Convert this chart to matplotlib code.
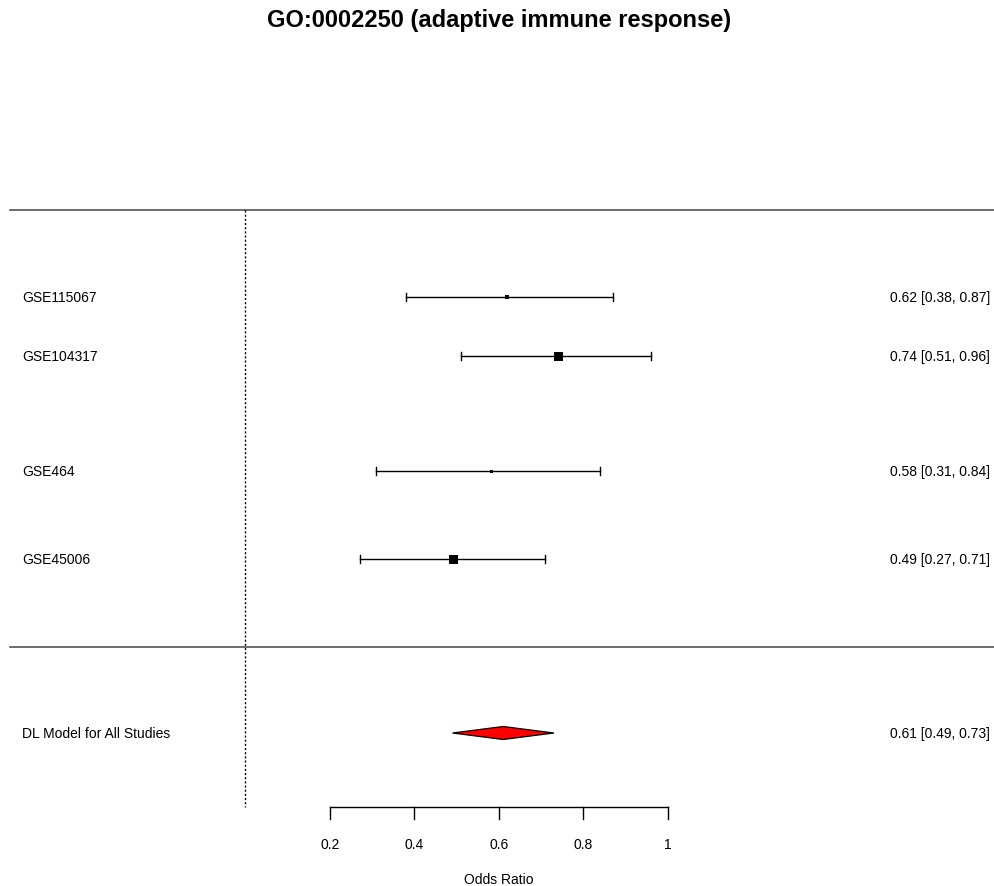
import numpy as np
import matplotlib.pyplot as plt
from matplotlib.patches import Polygon

plt.rcParams['font.family'] = ['Liberation Sans', 'DejaVu Sans']

studies = ['GSE115067', 'GSE104317', 'GSE464', 'GSE45006']
est = [0.62, 0.74, 0.58, 0.49]
lo = [0.38, 0.51, 0.31, 0.27]
hi = [0.87, 0.96, 0.84, 0.71]
box = [5, 9, 3, 9]          # square size in px (study weight)
pooled_label = 'DL Model for All Studies'
pooled = (0.61, 0.49, 0.73)
ticks = [0.2, 0.4, 0.6, 0.8, 1.0]
tick_labels = ['0.2', '0.4', '0.6', '0.8', '1']

# row positions (vertical layout, pixel-like units from the top)
rows = [298, 357, 472, 560]
row_pooled = 734

W, H = 995, 887
fig = plt.figure(figsize=(W / 100, H / 100), dpi=100)
ax = fig.add_axes([0, 0, 1, 1])
xmin, xmax = -0.581, 1.774
ax.set_xlim(xmin, xmax)
ax.set_ylim(H, 0)
ax.axis('off')

px = (xmax - xmin) / W   # data units per pixel in x
xlab = xmin + 22 * px
xright = xmin + 990 * px

# header / separator lines
for yy in [211, 648]:
    ax.plot([xmin + 10 * px, xmax], [yy, yy], color='#444444', lw=1.1)
# reference line at 0
ax.plot([0, 0], [211, 808], color='black', lw=1, ls=(0, (1.5, 1.5)))

for i in range(len(studies)):
    y = rows[i]
    ax.plot([lo[i], hi[i]], [y, y], color='black', lw=1)
    for e in (lo[i], hi[i]):
        ax.plot([e, e], [y - 4, y + 4], color='black', lw=1)
    ax.plot(est[i], y, marker='s', color='black', ms=box[i] * 0.72, mew=0)
    ax.text(xlab, y, studies[i], ha='left', va='center', fontsize=10)
    ax.text(xright, y, '%.2f [%.2f, %.2f]' % (est[i], lo[i], hi[i]),
            ha='right', va='center', fontsize=10)

# pooled diamond
m, l, h = pooled
dia = Polygon([[l, row_pooled], [m, row_pooled - 6.5], [h, row_pooled], [m, row_pooled + 6.5]],
              closed=True, facecolor='red', edgecolor='black', lw=0.9)
ax.add_patch(dia)
ax.text(xlab, row_pooled, pooled_label, ha='left', va='center', fontsize=10)
ax.text(xright, row_pooled, '%.2f [%.2f, %.2f]' % pooled, ha='right', va='center', fontsize=10)

# x axis
ax.plot([ticks[0], ticks[-1]], [808, 808], color='black', lw=1)
for t, lab in zip(ticks, tick_labels):
    ax.plot([t, t], [808, 820], color='black', lw=1)
    ax.text(t, 845, lab, ha='center', va='center', fontsize=10)
ax.text(0.6, 880, 'Odds Ratio', ha='center', va='center', fontsize=10)

ax.text(0.6, 20, 'GO:0002250 (adaptive immune response)', ha='center', va='center',
        fontsize=17, fontweight='bold')

fig.savefig('out.png', dpi=100)
